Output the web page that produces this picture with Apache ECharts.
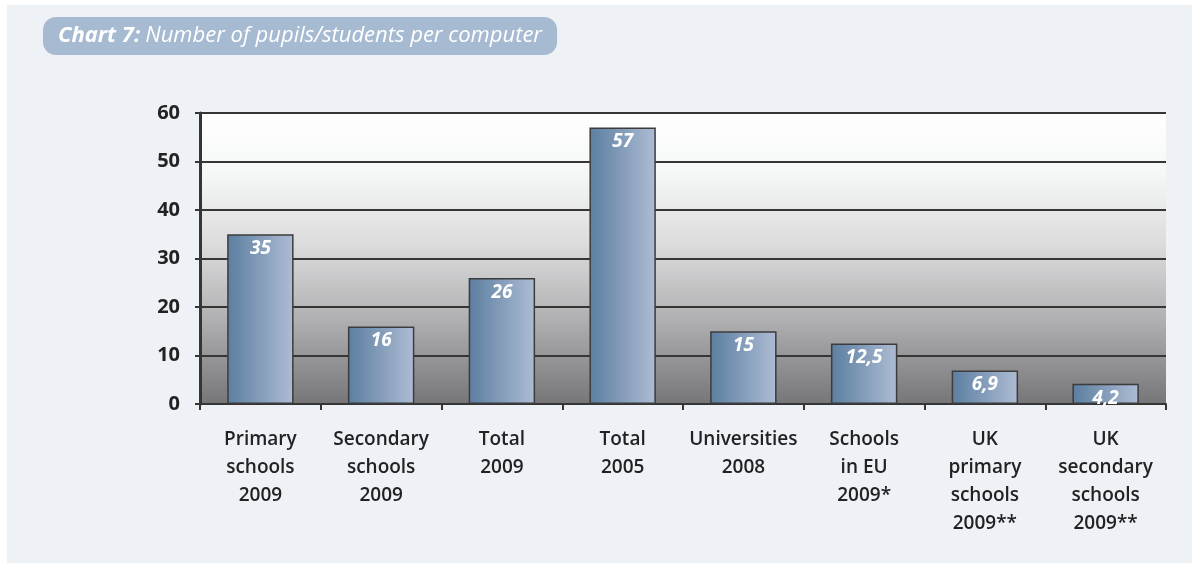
<!DOCTYPE html>
<html>
<head>
<meta charset="utf-8">
<script src="https://cdn.jsdelivr.net/npm/echarts@6/dist/echarts.min.js"></script>
<style>
html,body{margin:0;padding:0;background:#ffffff;width:1192px;height:563px;overflow:hidden;}
#panel{position:absolute;left:7px;top:5px;width:1185px;height:558px;background:#eef1f6;}
#chart{position:absolute;left:0;top:0;width:1185px;height:558px;}
</style>
</head>
<body>
<div id="panel"><div id="chart"></div></div>
<script>
const categories = [
  "Primary\nschools\n2009",
  "Secondary\nschools\n2009",
  "Total\n2009",
  "Total\n2005",
  "Universities\n2008",
  "Schools\nin EU\n2009*",
  "UK\nprimary\nschools\n2009**",
  "UK\nsecondary\nschools\n2009**"
];
const values = [35, 16, 26, 57, 15, 12.5, 6.9, 4.2];
const valueLabels = ["35", "16", "26", "57", "15", "12,5", "6,9", "4,2"];
const yTicks = [0, 10, 20, 30, 40, 50, 60];

const chart = echarts.init(document.getElementById('chart'), null, {renderer: 'canvas'});
const font = '"Open Sans", "Noto Sans", sans-serif';
const barGrad = new echarts.graphic.LinearGradient(0, 0, 1, 0, [
  {offset: 0, color: '#5b7ea0'},
  {offset: 1, color: '#aebcd4'}
]);
const bgGrad = new echarts.graphic.LinearGradient(0, 0, 0, 1, [
  {offset: 0, color: '#ffffff'},
  {offset: 0.2, color: '#f6f7f7'},
  {offset: 0.45, color: '#dcdcdd'},
  {offset: 0.7, color: '#b2b2b4'},
  {offset: 1, color: '#767678'}
]);

chart.setOption({
  animation: false,
  backgroundColor: 'transparent',
  title: {
    text: '{b|Chart 7:} {n|Number of pupils/students per computer}',
    left: 36,
    top: 12,
    padding: [8, 15, 8, 15],
    backgroundColor: '#a6bbd1',
    borderRadius: 13,
    textStyle: {
      fontWeight: 'normal',
      rich: {
        b: {fontFamily: font, fontWeight: 'bold', fontStyle: 'italic', fontSize: 22, color: '#ffffff'},
        n: {fontFamily: font, fontWeight: 'normal', fontStyle: 'italic', fontSize: 22, color: '#ffffff'}
      }
    }
  },
  grid: {
    left: 193, right: 26, top: 108, bottom: 159,
    show: true,
    backgroundColor: bgGrad,
    borderWidth: 0
  },
  xAxis: {
    type: 'category',
    data: categories,
    axisLine: {lineStyle: {color: '#353535', width: 2}},
    axisTick: {show: true, length: 6, lineStyle: {color: '#353535', width: 2}},
    axisLabel: {
      fontFamily: font, fontSize: 19, fontWeight: 600, color: '#222222',
      lineHeight: 28, margin: 22, interval: 0, align: 'center'
    }
  },
  yAxis: {
    type: 'value',
    min: 0, max: 60, interval: 10,
    axisLine: {show: true, lineStyle: {color: '#353535', width: 3}},
    axisTick: {show: true, length: 5, lineStyle: {color: '#353535', width: 2}},
    splitLine: {lineStyle: {color: '#353535', width: 2}},
    axisLabel: {
      fontFamily: font, fontSize: 20, fontWeight: 'bold', color: '#222222', margin: 20,
      formatter: v => yTicks.includes(v) ? String(v) : ''
    }
  },
  series: [{
    type: 'bar',
    data: values,
    barWidth: '55%',
    itemStyle: {color: barGrad, borderColor: '#3c3c3c', borderWidth: 1.5},
    label: {
      show: true,
      position: 'insideTop',
      distance: 5,
      fontFamily: font, fontSize: 19, fontWeight: 'bold', fontStyle: 'italic', color: '#ffffff',
      formatter: p => valueLabels[p.dataIndex]
    },
    z: 3
  }]
});
</script>
</body>
</html>
